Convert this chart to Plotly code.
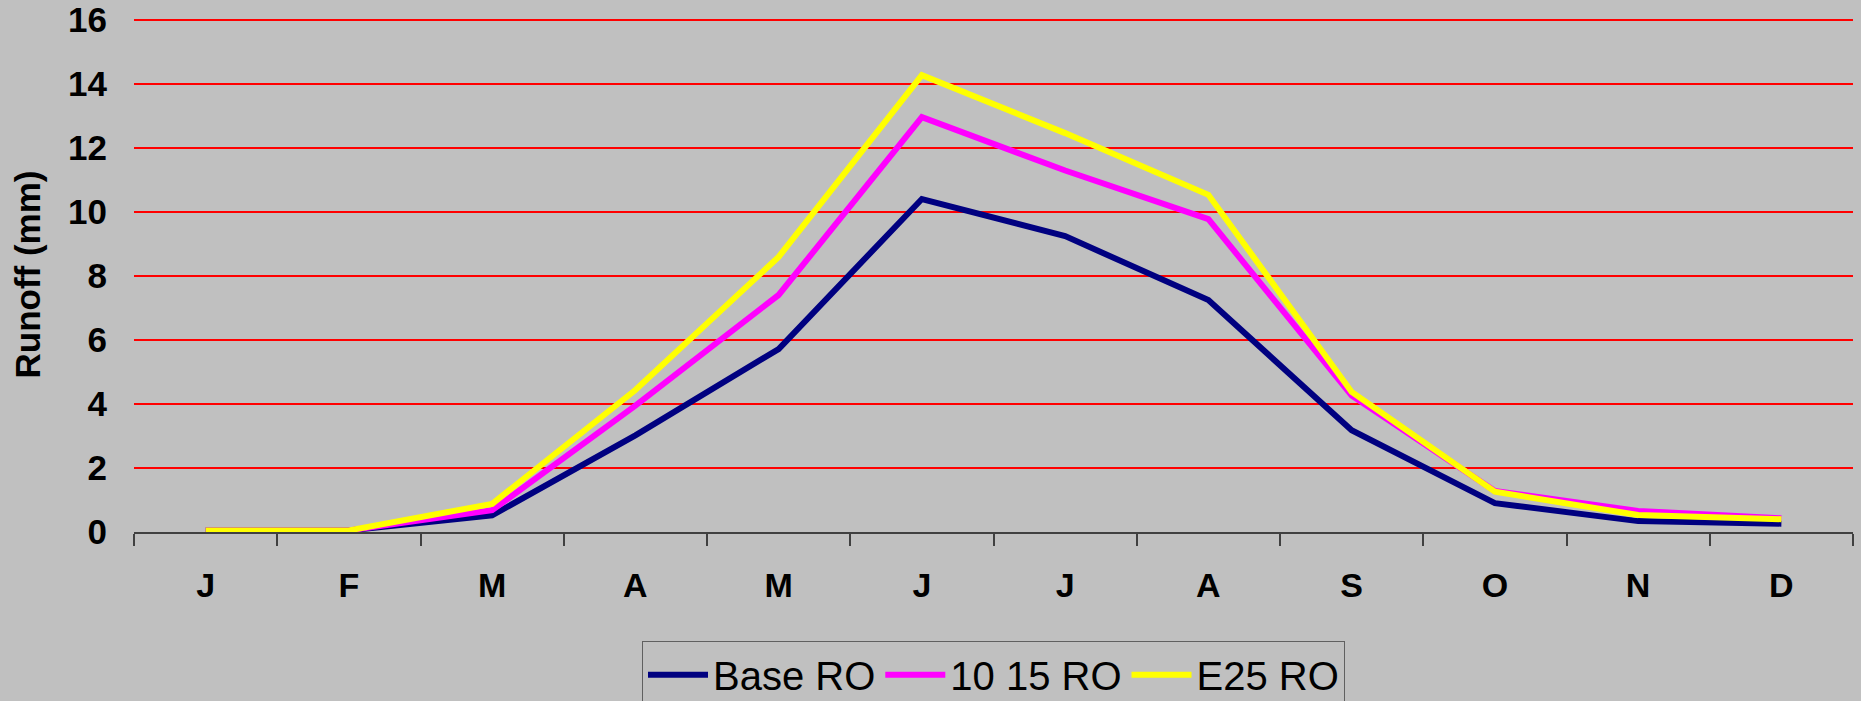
import plotly.graph_objects as go

months = ["J", "F", "M", "A", "M", "J", "J", "A", "S", "O", "N", "D"]
base_ro = [0.05, 0.05, 0.52, 3.02, 5.72, 10.41, 9.25, 7.25, 3.18, 0.90, 0.34, 0.26]
ro_10_15 = [0.05, 0.05, 0.68, 3.95, 7.41, 12.97, 11.30, 9.78, 4.27, 1.28, 0.66, 0.43]
e25_ro = [0.05, 0.05, 0.88, 4.44, 8.60, 14.28, 12.47, 10.54, 4.38, 1.26, 0.53, 0.40]
series_names = ["Base RO", "10 15 RO", "E25 RO"]
series_colors = ["#000080", "#FF00FF", "#FFFF00"]
y_ticks = [0, 2, 4, 6, 8, 10, 12, 14, 16]

x_idx = list(range(len(months)))
BG = "#C0C0C0"
FONT = "Liberation Sans, Arial, sans-serif"

fig = go.Figure()
for name, vals, col in zip(series_names, [base_ro, ro_10_15, e25_ro], series_colors):
    fig.add_trace(go.Scatter(
        x=x_idx, y=vals, mode="lines", name=name,
        line=dict(color=col, width=6),
    ))

fig.update_layout(
    width=1861, height=701,
    paper_bgcolor=BG, plot_bgcolor=BG,
    margin=dict(l=134, r=8, t=17, b=169, autoexpand=False),
    font=dict(family=FONT, color="#000000"),
    showlegend=True,
    legend=dict(
        orientation="h", x=0.5, xanchor="center", y=-0.212, yanchor="top",
        bgcolor=BG, bordercolor="#606060", borderwidth=1,
        font=dict(size=40, family=FONT, color="#000000"),
        itemwidth=60,
        traceorder="normal",
    ),
)

fig.update_xaxes(
    range=[-0.5, len(months) - 0.5],
    tickmode="array", tickvals=x_idx, ticktext=months,
    ticks="", ticklabelstandoff=22,
    tickfont=dict(size=34, family=FONT, color="#000000", weight="bold"),
    showgrid=False, zeroline=False,
    showline=True, linecolor="#404040", linewidth=1.5,
    minor=dict(tickmode="linear", tick0=-0.5, dtick=1, ticks="outside",
               ticklen=12, tickcolor="#404040", tickwidth=1.5, showgrid=False),
)

fig.update_yaxes(
    range=[0, 16.1], tickmode="array", tickvals=y_ticks,
    ticks="", ticklabelstandoff=26,
    tickfont=dict(size=35, family=FONT, color="#000000", weight="bold"),
    showgrid=True, gridcolor="#FF0000", gridwidth=2,
    zeroline=False, showline=False,
    title=dict(text="Runoff (mm)", standoff=16,
               font=dict(size=35, family=FONT, color="#000000", weight="bold")),
)

fig.write_html("out.html", config={"displayModeBar": False})

# remove default page margin so the figure sits at the window's top-left corner
with open("out.html", "r", encoding="utf-8") as f:
    html = f.read()
html = html.replace("<head>", "<head><style>html,body{margin:0;padding:0;background:#C0C0C0;overflow:hidden;}</style>", 1)
with open("out.html", "w", encoding="utf-8") as f:
    f.write(html)
